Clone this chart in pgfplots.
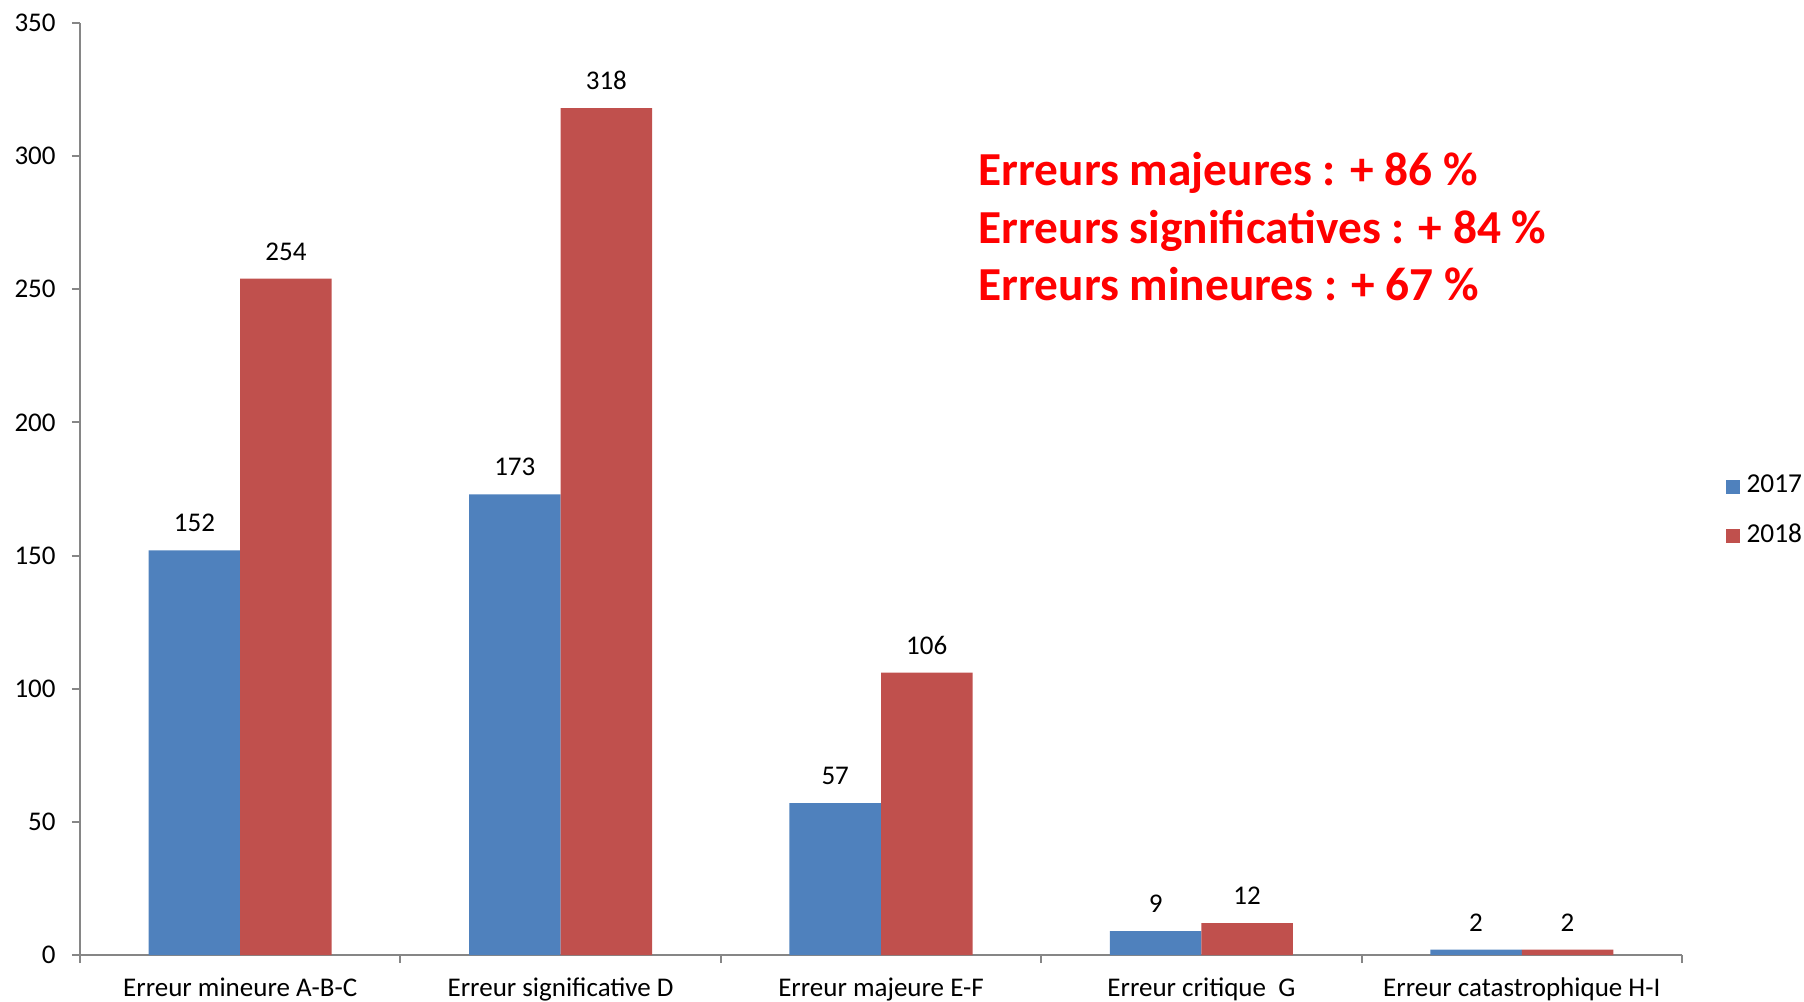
\documentclass[border=0pt]{standalone}
\usepackage{pgfplots}
\pgfplotsset{compat=1.18}
\usepackage{fontspec}
\setmainfont{Carlito}
\definecolor{b17}{HTML}{4F81BD}
\definecolor{r18}{HTML}{C0504D}
\definecolor{axg}{HTML}{868686}
\pgfplotsset{mysq/.style={legend image code/.code={\fill[##1] (0pt,-2.1pt) rectangle (4.2pt,2.1pt);}}}
\begin{document}
\begin{tikzpicture}
\path[use as bounding box] (0,0) rectangle (541.2pt,300.3pt);
\begin{axis}[
  at={(24pt,13.8pt)}, anchor=south west, scale only axis,
  width=480.6pt, height=279.6pt,
  xmin=-0.5, xmax=4.5, ymin=0, ymax=350,
  ybar=0pt, bar width=27.46pt,
  axis x line*=bottom, axis y line*=left,
  axis line style={axg, line width=0.6pt, -},
  tick align=outside, major tick length=2.4pt,
  tick style={axg, line width=0.6pt},
  ytick={0,50,...,350},
  xtick={-0.5,0.5,...,4.5}, xticklabels={},
  extra x ticks={0,1,2,3,4},
  extra x tick labels={Erreur mineure A-B-C, Erreur significative D, Erreur majeure E-F, {Erreur critique\ \ G}, Erreur catastrophique H-I},
  extra x tick style={major tick length=0pt},
  xticklabel style={yshift=-3.4pt},
  yticklabel style={xshift=-1.4pt},
  ticklabel style={font=\fontsize{8.1}{9.7}\selectfont, text=black},
  /pgf/number format/assume math mode=true,
  nodes near coords,
  nodes near coords style={font=\fontsize{8.1}{9.7}\selectfont, text=black, yshift=2pt},
  legend style={at={(1.027,0.476)}, anchor=west, draw=none, fill=none,
    font=\fontsize{8.2}{9.8}\selectfont, row sep=3.8pt, inner sep=0pt},
  legend cell align=left,
]
\addplot[fill=b17, draw=none, mysq] coordinates {(0,152) (1,173) (2,57) (3,9) (4,2)};
\addplot[fill=r18, draw=none, mysq] coordinates {(0,254) (1,318) (2,106) (3,12) (4,2)};
\legend{2017,2018}
\end{axis}
\begin{scope}[every node/.style={anchor=base west, inner sep=0pt, text=red, font=\fontsize{14.2}{17}\selectfont\bfseries}]
\node at (293.4pt,244.5pt) {Erreurs majeures : + 86 \%};
\node at (293.4pt,227.1pt) {Erreurs significatives : + 84 \%};
\node at (293.4pt,210.0pt) {Erreurs mineures : + 67 \%};
\end{scope}
\end{tikzpicture}
\end{document}
